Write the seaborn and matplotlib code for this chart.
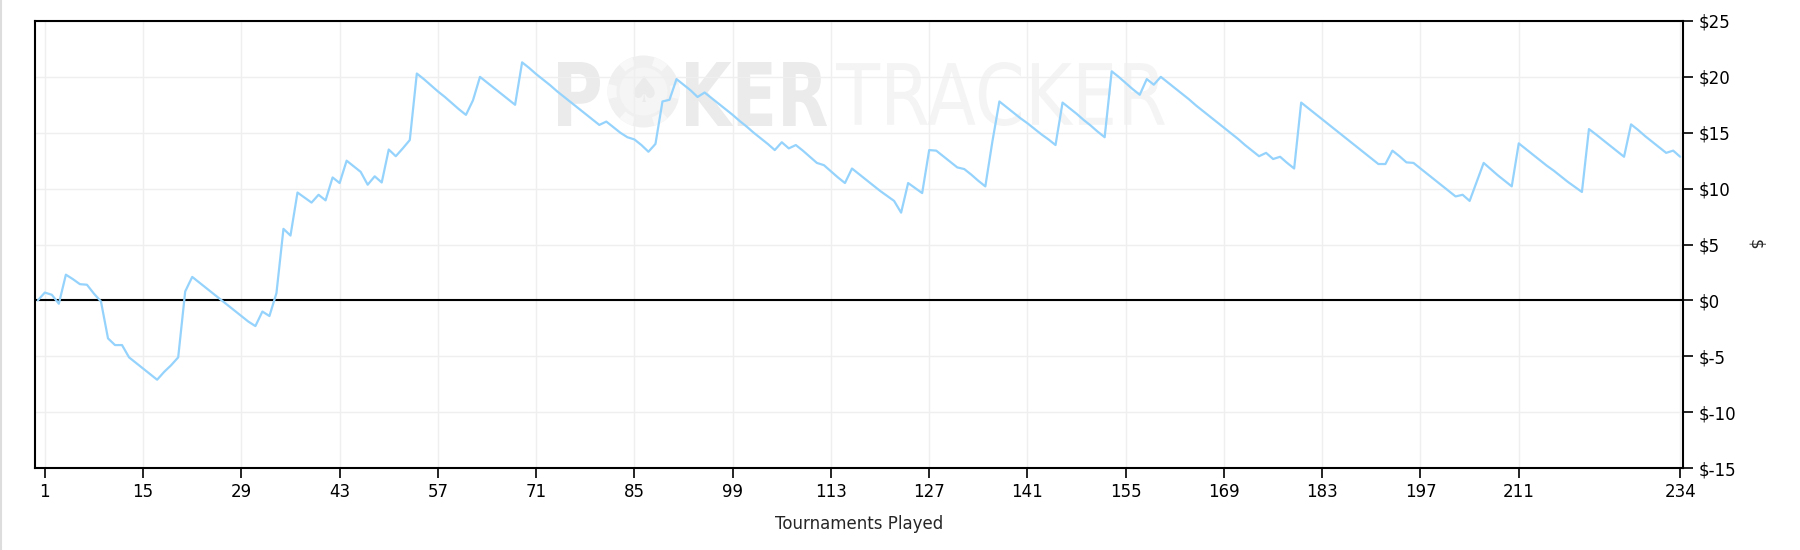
import matplotlib
matplotlib.use("Agg")
import matplotlib.pyplot as plt
from matplotlib.font_manager import FontProperties
from matplotlib.lines import Line2D
from matplotlib.patches import Circle, PathPatch, Wedge
from matplotlib.textpath import TextPath
from matplotlib.transforms import Affine2D
import seaborn as sns
import pandas as pd

# cumulative profit ($) after each tournament
tournaments = list(range(0, 235))
profit = [
    0.0, 0.7, 0.5, -0.3, 2.3, 1.9, 1.45, 1.4, 0.6, -0.1,
    -3.4, -4.0, -4.0, -5.1, -5.6, -6.1, -6.6, -7.1, -6.4, -5.8,
    -5.1, 0.8, 2.1, 1.6, 1.1, 0.6, 0.1, -0.4, -0.9, -1.4,
    -1.9, -2.3, -1.0, -1.4, 0.65, 6.4, 5.8, 9.65, 9.2, 8.75,
    9.45, 8.95, 11.0, 10.5, 12.5, 12.0, 11.5, 10.35, 11.1, 10.55,
    13.5, 12.9, 13.6, 14.35, 20.3, 19.8, 19.25, 18.7, 18.2, 17.65,
    17.1, 16.6, 17.9, 20.0, 19.5, 19.0, 18.5, 18.0, 17.5, 21.3,
    20.8, 20.25, 19.75, 19.25, 18.7, 18.2, 17.7, 17.2, 16.7, 16.2,
    15.7, 16.0, 15.5, 15.0, 14.6, 14.4, 13.9, 13.3, 14.0, 17.8,
    17.95, 19.8, 19.3, 18.8, 18.2, 18.6, 18.1, 17.6, 17.1, 16.6,
    16.05, 15.55, 15.0, 14.5, 14.0, 13.45, 14.15, 13.6, 13.9, 13.4,
    12.85, 12.3, 12.1, 11.55, 11.0, 10.5, 11.8, 11.3, 10.8, 10.3,
    9.8, 9.35, 8.9, 7.85, 10.5, 10.05, 9.6, 13.45, 13.4, 12.9,
    12.4, 11.9, 11.75, 11.25, 10.7, 10.2, 14.2, 17.8, 17.3, 16.8,
    16.3, 15.85, 15.35, 14.85, 14.4, 13.9, 17.7, 17.2, 16.7, 16.15,
    15.65, 15.1, 14.6, 20.5, 20.0, 19.45, 18.9, 18.4, 19.8, 19.3,
    20.0, 19.5, 19.0, 18.5, 18.0, 17.45, 16.95, 16.45, 15.95, 15.45,
    14.95, 14.45, 13.9, 13.4, 12.9, 13.2, 12.65, 12.85, 12.3, 11.8,
    17.7, 17.2, 16.7, 16.2, 15.7, 15.2, 14.7, 14.2, 13.7, 13.2,
    12.7, 12.2, 12.2, 13.4, 12.9, 12.35, 12.3, 11.8, 11.3, 10.8,
    10.3, 9.8, 9.3, 9.45, 8.9, 10.6, 12.3, 11.75, 11.2, 10.7,
    10.2, 14.05, 13.55, 13.05, 12.55, 12.05, 11.6, 11.1, 10.6, 10.15,
    9.7, 15.33, 14.85, 14.35, 13.85, 13.35, 12.85, 15.75, 15.25, 14.7,
    14.2, 13.7, 13.2, 13.4, 12.85,
]

x_ticks = [1, 15, 29, 43, 57, 71, 85, 99, 113, 127, 141, 155, 169, 183, 197, 211, 234]
y_ticks = [-15, -10, -5, 0, 5, 10, 15, 20, 25]
y_labels = [f"${v}" for v in y_ticks]

LINE = "#95d3fc"
GRID = "#efefef"

df = pd.DataFrame({"tournament": tournaments, "profit": profit})

sns.set_theme(style="white")
plt.rcParams["font.family"] = ["DejaVu Sans"]

W, H = 1800, 550
fig = plt.figure(figsize=(18, 5.5), dpi=100)
ax = fig.add_axes([35 / W, 82 / H, 1648 / W, 447 / H])

# pixel space transform (origin bottom-left of the figure)
pix = Affine2D().scale(1 / W, 1 / H) + fig.transFigure


def word(text, box, color, bold):
    fp = FontProperties(family="DejaVu Sans", weight="bold" if bold else "normal")
    path = TextPath((0, 0), text, size=100, prop=fp)
    bb = path.get_extents()
    x0, y0, x1, y1 = box
    tr = (Affine2D().translate(-bb.x0, -bb.y0)
          .scale((x1 - x0) / bb.width, (y1 - y0) / bb.height)
          .translate(x0, y0))
    ax.add_patch(PathPatch(tr.transform_path(path), facecolor=color,
                           edgecolor="none", transform=pix, zorder=0.2))


# watermark
word("P", (558, 424, 600, 488), "#ebebeb", True)
word("KER", (686, 424, 827, 488), "#ebebeb", True)
word("TRACKER", (836, 424, 1165, 488), "#f4f4f4", False)
cx, cy = 643.5, 458.5
ax.add_patch(Circle((cx, cy), 36, facecolor="#f0f0f0", edgecolor="none",
                    transform=pix, zorder=0.2))
for k in range(6):
    ax.add_patch(Wedge((cx, cy), 36, k * 60 - 12, k * 60 + 12, width=9,
                       facecolor="#f8f8f8", edgecolor="none", transform=pix, zorder=0.21))
ax.add_patch(Circle((cx, cy), 24, facecolor="#f5f5f5", edgecolor="none",
                    transform=pix, zorder=0.22))
ax.text(cx / W, cy / H, "\u2660", transform=fig.transFigure, ha="center", va="center",
        fontsize=26, color="#ebebeb", zorder=0.23)

sns.lineplot(data=df, x="tournament", y="profit", ax=ax, color=LINE,
             linewidth=1.6, zorder=3)
ax.axhline(0, color="black", linewidth=1.5, zorder=2)

ax.set_xlim(-0.4, 234.4)
ax.set_ylim(-15, 25)
ax.set_xticks(x_ticks)
ax.set_yticks(y_ticks)
ax.set_yticklabels(y_labels)
ax.yaxis.tick_right()
ax.yaxis.set_label_position("right")

ax.set_axisbelow(True)
ax.grid(True, color=GRID, linewidth=1.0)
for s in ax.spines.values():
    s.set_visible(True)
    s.set_color("black")
    s.set_linewidth(1.5)

ax.tick_params(axis="both", direction="out", length=7, width=1.2, color="black",
               labelsize=12, labelcolor="black", pad=4)
ax.tick_params(axis="x", bottom=True, top=False)
ax.tick_params(axis="y", right=True, left=False)

ax.set_xlabel("Tournaments Played", fontsize=12, labelpad=10)
ax.set_ylabel("$", fontsize=12, rotation=270, labelpad=14, va="center")

# thin grey border at the left edge of the frame
fig.add_artist(Line2D([1 / W, 1 / W], [0, 1], color="#dddddd", linewidth=1.5,
                      transform=fig.transFigure))

fig.savefig("out.png", dpi=100)
